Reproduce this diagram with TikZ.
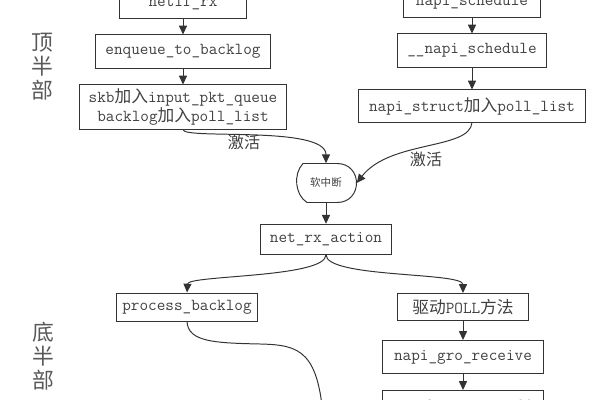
\documentclass[tikz,border=0pt]{standalone}
\usepackage{fontspec}
\newfontfamily\cjk{Noto Sans CJK SC}
\usetikzlibrary{arrows.meta, positioning}

\begin{document}
\begin{tikzpicture}[x=0.025cm,y=-0.025cm,node distance=0.4cm,
    box/.style={draw=black!80,line width=0.7pt,inner sep=2pt,text=black!75,align=center,font=\fontsize{11.9}{14}\selectfont\ttfamily},
    softirq/.style={inner sep=0pt,minimum width=1.525cm,minimum height=0.975cm,text=black!75,font=\fontsize{7.5}{9}\selectfont\cjk},
    edge/.style={line width=0.7pt,draw=black!80,-{Triangle[length=2.2mm,width=2mm]}},
    lbl/.style={text=black!75,font=\fontsize{11.4}{13}\selectfont\cjk},
    side/.style={text=black!65,align=center,font=\fontsize{15.5}{17}\selectfont\cjk}]
    \useasboundingbox (0,0) rectangle (600,400);
    \clip (0,0) rectangle (600,400);

    % top half
    \node[box,minimum width=3.15cm,minimum height=0.75cm] (netifrx) at (183,3) {netif\_rx};
    \node[box,minimum width=4.375cm,minimum height=0.825cm,below=of netifrx] (enqueue) {enqueue\_to\_backlog};
    \node[box,minimum width=5.175cm,minimum height=1.1cm,below=of enqueue] (skb) {skb{\cjk 加入}input\_pkt\_queue\\backlog{\cjk 加入}poll\_list};
    \node[box,minimum width=3.425cm,minimum height=0.75cm] (napisch) at (472,2) {napi\_schedule};
    \node[box,minimum width=3.7cm,minimum height=0.825cm,below=of napisch] (napisch2) {\_\_napi\_schedule};
    \node[box,minimum width=5.65cm,minimum height=0.8cm,below=0.55cm of napisch2] (napistruct) {napi\_struct{\cjk 加入}poll\_list};
    \node[side] (tophalf) at (42,67) {顶\\半\\部};

    % softirq
    \node[softirq] (soft) at (326,183) {软中断};
    \draw[line width=0.7pt,draw=black!80,shift={(soft.center)}] (-23,-19.5) -- (11,-19.5)
        .. controls (37,-19.5) and (37,19.5) .. (11,19.5) -- (-19,19.5)
        .. controls (-31,12) and (-33,-9) .. cycle;
    \node[lbl] (act1) at (244,142) {激活};
    \node[lbl] (act2) at (426,159) {激活};

    % bottom half
    \node[box,minimum width=3.25cm,minimum height=0.75cm,below=0.525cm of soft] (netrx) {net\_rx\_action};
    \node[box,minimum width=3.525cm,minimum height=0.7cm] (pb) at (187,307) {process\_backlog};
    \node[box,minimum width=3.25cm,minimum height=0.675cm] (poll) at (463,307) {{\cjk 驱动}POLL{\cjk 方法}};
    \node[box,minimum width=4.025cm,minimum height=0.825cm,below=0.475cm of poll] (gro) {napi\_gro\_receive};
    \node[box,minimum width=4.025cm,minimum height=0.825cm,below=of gro] (netifrcv) {netif\_receive\_skb};
    \node[side] (bothalf) at (43,356) {底\\半\\部};
    \coordinate (pbend) at (324,430);

    \draw[edge] (netifrx) -- (enqueue);
    \draw[edge] (enqueue) -- (skb);
    \draw[edge] (napisch.south) -- (napisch.south |- napisch2.north);
    \draw[edge] (napisch2.south) -- (napisch2.south |- napistruct.north);
    \draw[edge] (skb.south) .. controls (182,140) and (326,125) .. (soft.north);
    \draw[edge] (napistruct.south) .. controls (470,150) and (390,140) .. (soft.east);
    \draw[edge] (soft) -- (netrx);
    \draw[edge] (netrx.south) .. controls (326,278) and (188,275) .. (pb.north);
    \draw[edge] (netrx.south) .. controls (326,278) and (463,272) .. (poll.north);
    \draw[edge] (poll) -- (gro);
    \draw[edge] (gro) -- (netifrcv);
    \draw[line width=0.7pt,draw=black!80] (pb.south) .. controls (188,342) and (215,343) .. (260,344)
        .. controls (300,345) and (320,350) .. (pbend);
  \end{tikzpicture}
\end{document}
